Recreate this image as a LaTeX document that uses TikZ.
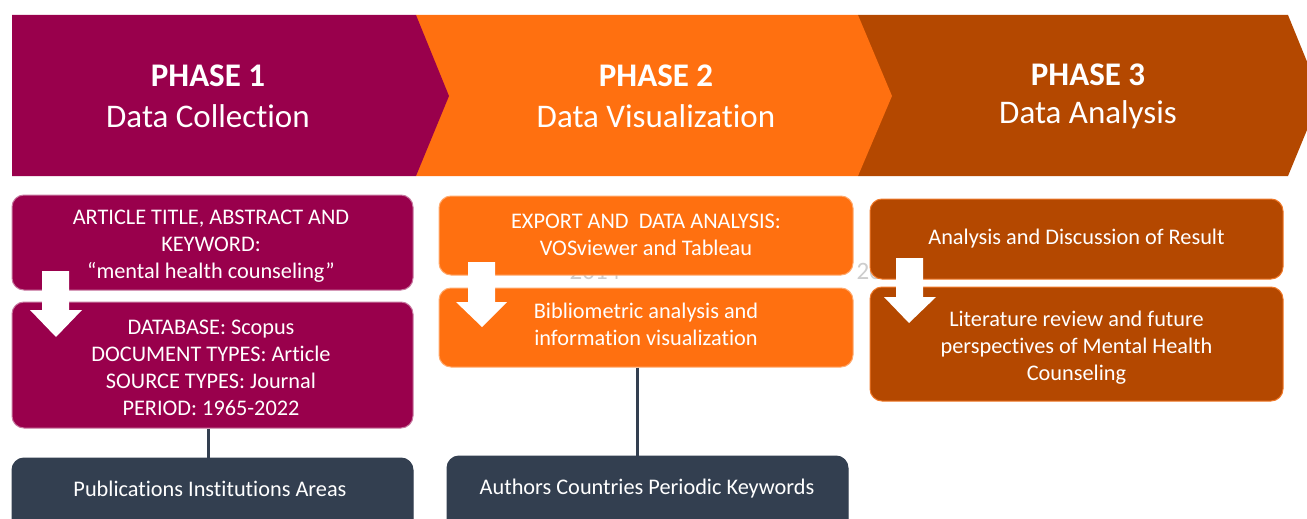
\documentclass[tikz,border=0pt]{standalone}
\usepackage{fontspec}
\setmainfont[Ligatures=NoCommon]{Carlito}
\definecolor{pur}{RGB}{153,0,76}
\definecolor{purline}{RGB}{200,120,160}
\definecolor{org}{RGB}{255,112,16}
\definecolor{orgline}{RGB}{255,170,110}
\definecolor{brn}{RGB}{180,72,0}
\definecolor{brnline}{RGB}{240,120,40}
\definecolor{slate}{RGB}{51,63,80}
\definecolor{ghost}{RGB}{205,205,205}
\tikzset{
  head/.style={text=white, inner sep=0pt, font=\fontsize{33}{38}\selectfont},
  boxbase/.style={rounded corners=12pt, line width=1pt, inner sep=0pt},
  pbox/.style={boxbase, fill=pur, draw=purline},
  obox/.style={boxbase, fill=org, draw=orgline},
  bbox/.style={boxbase, fill=brn, draw=brnline},
  sbox/.style={boxbase, fill=slate, draw=slate},
  btext/.style={text=white, align=center, inner sep=0pt, font=\fontsize{22.3}{27}\selectfont},
  conn/.style={draw=slate, line width=3pt},
  downarrow/.style={fill=white},
  ghosttext/.style={text=ghost, inner sep=0pt, font=\fontsize{25}{28}\selectfont, anchor=base}
}
\begin{document}
\begin{tikzpicture}[x=1pt,y=-1pt]
\useasboundingbox (0,0) rectangle (1307,519);
\fill[white] (0,0) rectangle (1307,519);

% chevrons
\fill[brn] (858,15) -- (1288,15) -- (1321,96) -- (1288,176) -- (858,176) -- cycle;
\fill[org] (416,15) -- (858,15) -- (892,96) -- (858,176) -- (416,176) -- cycle;
\fill[pur] (12,15) -- (416,15) -- (449,96) -- (416,176) -- (12,176) -- cycle;

\node[head] (h1a) at (208,76) {\textbf{PHASE 1}};
\node[head] (h1b) at (208,116) {Data Collection};
\node[head] (h2a) at (656,76) {\textbf{PHASE 2}};
\node[head] (h2b) at (656,116) {Data Visualization};
\node[head] (h3a) at (1088,75) {\textbf{PHASE 3}};
\node[head] (h3b) at (1088,115) {Data Analysis};

% ghost texts
\node[ghosttext] (g1) at (595,279) {2014};
\node[ghosttext] (g2) at (882,279) {2014};

% phase 1 boxes
\node[pbox, minimum width=401pt, minimum height=95pt] (p1a) at (212.5,242.5) {};
\node[btext] (t1a) at ([xshift=-1.5pt,yshift=-4pt]p1a.center)
  {ARTICLE TITLE, ABSTRACT AND\\KEYWORD:\\“mental health counseling”};
\node[pbox, minimum width=401pt, minimum height=126pt] (p1b) at (212.5,365) {};
\node[btext] (t1b) at ([xshift=-1.5pt,yshift=-3pt]p1b.center)
  {DATABASE: Scopus\\DOCUMENT TYPES: Article\\SOURCE TYPES: Journal\\PERIOD: 1965-2022};
\node[sbox, minimum width=401pt, minimum height=90pt] (p1c) at (212.5,503) {};
\node[btext] (t1c) at (210,489) {Publications Institutions Areas};

% phase 2 boxes
\node[obox, minimum width=414pt, minimum height=79pt] (p2a) at (646,235.5) {};
\node[btext] (t2a) at ([yshift=1pt]p2a.center)
  {EXPORT AND\ \ DATA ANALYSIS:\\VOSviewer and Tableau};
\node[obox, minimum width=414pt, minimum height=79pt] (p2b) at (646,327.5) {};
\node[btext] (t2b) at ([yshift=3pt]p2b.center)
  {Bibliometric analysis and\\information visualization};
\node[sbox, minimum width=401pt, minimum height=90pt] (p2c) at (647.5,501) {};
\node[btext] (t2c) at (647,489) {Authors Countries Periodic Keywords};

% phase 3 boxes
\node[bbox, minimum width=413pt, minimum height=80pt] (p3a) at (1076.5,239) {};
\node[btext] (t3a) at (p3a.center) {Analysis and Discussion of Result};
\node[bbox, minimum width=413pt, minimum height=114pt] (p3b) at (1076.5,344) {};
\node[btext] (t3b) at ([yshift=-4pt]p3b.center)
  {Literature review and future\\perspectives of Mental Health\\Counseling};

% connectors
\draw[conn] ([xshift=-4.5pt]p1b.south) -- ([xshift=-4.5pt]p1b.south |- p1c.north);
\draw[conn] ([xshift=-9pt]p2b.south) -- ([xshift=-9pt]p2b.south |- p2c.north);

% block arrows
\fill[downarrow] (42,271) -- (69,271) -- (69,310) -- (82,310) -- (56,337) -- (30,310) -- (42,310) -- cycle;
\fill[downarrow] (468,262) -- (495,262) -- (495,302) -- (507,302) -- (482,327) -- (456,302) -- (468,302) -- cycle;
\fill[downarrow] (896,258) -- (923,258) -- (923,297) -- (936,297) -- (909,323) -- (884,297) -- (896,297) -- cycle;
\end{tikzpicture}
\end{document}
